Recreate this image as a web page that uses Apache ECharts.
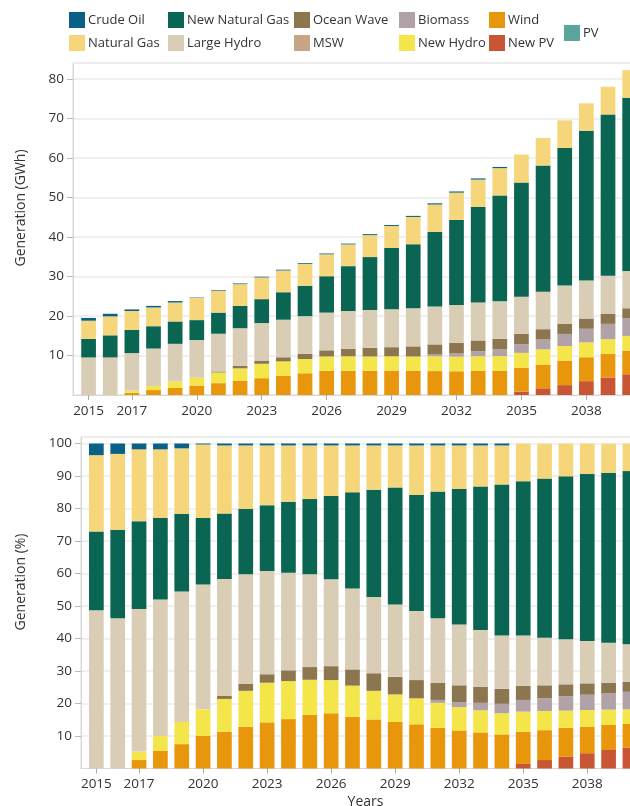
<!DOCTYPE html>
<html>
<head>
<meta charset="utf-8">
<script src="https://cdn.jsdelivr.net/npm/echarts@6/dist/echarts.min.js"></script>
<style>
  html, body { margin: 0; padding: 0; background: #fff; }
  #chart { width: 630px; height: 806px; }
</style>
</head>
<body>
<div id="chart"></div>
<script>
// years on the x axis
var years = [2015, 2016, 2017, 2018, 2019, 2020, 2021, 2022, 2023, 2024, 2025, 2026, 2027,
             2028, 2029, 2030, 2031, 2032, 2033, 2034, 2035, 2036, 2037, 2038, 2039, 2040];
var yearTicks = [2015, 2017, 2020, 2023, 2026, 2029, 2032, 2035, 2038];
var gwhTicks = [10, 20, 30, 40, 50, 60, 70, 80];
var pctTicks = [10, 20, 30, 40, 50, 60, 70, 80, 90, 100];

// generation, GWh
var newPvGwh = [0, 0, 0, 0, 0, 0, 0, 0, 0, 0, 0, 0, 0, 0, 0, 0, 0, 0, 0, 0, 0.85, 1.7, 2.5, 3.5, 4.45, 5.25];
var windGwh = [0, 0, 0.55, 1.25, 1.8, 2.4, 3.0, 3.6, 4.25, 4.8, 5.5, 6.1, 6.1, 6.15, 6.15, 6.15, 6.05, 6.0, 6.1, 6.1, 6.0, 6.0, 6.2, 6.05, 6.0, 6.0];
var newHydroGwh = [0, 0, 0.55, 1.0, 1.6, 2.0, 2.7, 3.15, 3.65, 3.7, 3.6, 3.65, 3.7, 3.6, 3.65, 3.6, 3.75, 3.7, 3.7, 3.75, 3.8, 3.85, 3.7, 3.75, 3.65, 3.7];
var biomassGwh = [0, 0, 0, 0, 0, 0, 0, 0, 0, 0, 0, 0, 0, 0, 0, 0, 0.45, 0.8, 1.3, 1.7, 2.2, 2.5, 3.05, 3.45, 3.9, 4.45];
var mswGwh = [0, 0, 0, 0, 0, 0, 0, 0, 0, 0, 0, 0, 0, 0, 0, 0, 0, 0, 0, 0, 0, 0, 0, 0, 0, 0];
var oceanWaveGwh = [0, 0, 0, 0, 0, 0, 0.25, 0.6, 0.8, 1.05, 1.3, 1.55, 1.9, 2.2, 2.3, 2.55, 2.55, 2.7, 2.7, 2.65, 2.6, 2.6, 2.6, 2.6, 2.6, 2.55];
var pvGwh = [0, 0, 0, 0, 0, 0, 0, 0, 0, 0, 0, 0, 0, 0, 0, 0, 0, 0, 0, 0, 0, 0, 0, 0, 0, 0];
var largeHydroGwh = [9.5, 9.5, 9.5, 9.5, 9.55, 9.5, 9.55, 9.55, 9.5, 9.5, 9.55, 9.55, 9.55, 9.55, 9.6, 9.65, 9.6, 9.6, 9.6, 9.5, 9.4, 9.5, 9.65, 9.6, 9.6, 9.45];
var newGasGwh = [4.7, 5.6, 5.85, 5.65, 5.65, 5.05, 5.35, 5.65, 6.05, 6.95, 7.7, 9.2, 11.35, 13.4, 15.5, 16.2, 18.9, 21.5, 24.2, 26.8, 28.9, 31.9, 34.8, 37.9, 40.8, 43.8];
var gasGwh = [4.6, 4.8, 4.8, 4.75, 4.8, 5.6, 5.5, 5.5, 5.5, 5.5, 5.5, 5.55, 5.5, 5.55, 5.55, 6.9, 6.9, 6.9, 6.9, 6.9, 7.1, 7.0, 7.0, 6.95, 7.0, 7.0];
var crudeGwh = [0.7, 0.65, 0.4, 0.4, 0.36, 0.1, 0.16, 0.17, 0.18, 0.2, 0.2, 0.2, 0.2, 0.25, 0.25, 0.27, 0.3, 0.3, 0.3, 0.3, 0, 0, 0, 0, 0, 0];

// generation share, %
var newPvPct = [0, 0, 0, 0, 0, 0, 0, 0, 0, 0, 0, 0, 0, 0, 0, 0, 0, 0, 0, 0, 1.4, 2.6, 3.6, 4.7, 5.7, 6.4];
var windPct = [0, 0, 2.6, 5.5, 7.5, 10.0, 11.3, 12.8, 14.2, 15.2, 16.5, 17.0, 15.9, 15.1, 14.3, 13.6, 12.5, 11.7, 11.1, 10.5, 9.9, 9.2, 8.9, 8.2, 7.7, 7.3];
var newHydroPct = [0, 0, 2.6, 4.5, 6.8, 8.2, 10.1, 11.1, 12.2, 11.7, 10.8, 10.2, 9.6, 8.8, 8.5, 8.0, 7.7, 7.2, 6.8, 6.5, 6.2, 5.9, 5.3, 5.1, 4.7, 4.5];
var biomassPct = [0, 0, 0, 0, 0, 0, 0, 0, 0, 0, 0, 0, 0, 0, 0, 0, 0.9, 1.5, 2.3, 2.9, 3.6, 3.9, 4.4, 4.7, 5.0, 5.4];
var mswPct = [0, 0, 0, 0, 0, 0, 0, 0, 0, 0, 0, 0, 0, 0, 0, 0, 0, 0, 0, 0, 0, 0, 0, 0, 0, 0];
var oceanWavePct = [0, 0, 0, 0, 0, 0, 0.9, 2.1, 2.6, 3.3, 3.9, 4.3, 5.0, 5.4, 5.4, 5.6, 5.3, 5.2, 4.9, 4.6, 4.3, 4.0, 3.7, 3.5, 3.3, 3.1];
var pvPct = [0, 0, 0, 0, 0, 0, 0, 0, 0, 0, 0, 0, 0, 0, 0, 0, 0, 0, 0, 0, 0, 0, 0, 0, 0, 0];
var largeHydroPct = [48.7, 46.2, 43.9, 42.0, 40.2, 38.4, 36.0, 33.8, 31.8, 30.0, 28.6, 26.7, 24.9, 23.5, 22.3, 21.3, 19.8, 18.7, 17.5, 16.4, 15.5, 14.6, 13.9, 13.0, 12.3, 11.5];
var newGasPct = [24.2, 27.3, 27.0, 25.1, 23.8, 20.5, 20.2, 20.1, 20.2, 21.9, 23.1, 25.7, 29.6, 33.0, 36.0, 35.7, 39.0, 41.7, 44.2, 46.5, 47.5, 49.0, 50.1, 51.4, 52.3, 53.3];
var gasPct = [23.5, 23.3, 22.1, 21.1, 20.2, 22.6, 20.9, 19.5, 18.4, 17.3, 16.5, 15.5, 14.4, 13.6, 12.9, 15.2, 14.2, 13.4, 12.6, 12.0, 11.6, 10.8, 10.1, 9.4, 9.0, 8.5];
var crudePct = [3.6, 3.2, 1.8, 1.8, 1.5, 0.3, 0.6, 0.6, 0.6, 0.6, 0.6, 0.6, 0.6, 0.6, 0.6, 0.6, 0.6, 0.6, 0.6, 0.6, 0, 0, 0, 0, 0, 0];

// stack order, bottom to top
var layers = [
  { name: 'New PV', color: '#c85533', gwh: newPvGwh, pct: newPvPct },
  { name: 'Wind', color: '#e8960b', gwh: windGwh, pct: windPct },
  { name: 'New Hydro', color: '#f4e64a', gwh: newHydroGwh, pct: newHydroPct },
  { name: 'Biomass', color: '#b1a2a8', gwh: biomassGwh, pct: biomassPct },
  { name: 'MSW', color: '#c8a582', gwh: mswGwh, pct: mswPct },
  { name: 'Ocean Wave', color: '#8b7650', gwh: oceanWaveGwh, pct: oceanWavePct },
  { name: 'PV', color: '#5ba59b', gwh: pvGwh, pct: pvPct },
  { name: 'Large Hydro', color: '#d9cdb6', gwh: largeHydroGwh, pct: largeHydroPct },
  { name: 'New Natural Gas', color: '#0a6552', gwh: newGasGwh, pct: newGasPct },
  { name: 'Natural Gas', color: '#f6d67a', gwh: gasGwh, pct: gasPct },
  { name: 'Crude Oil', color: '#0b6087', gwh: crudeGwh, pct: crudePct }
];

var font = '"Open Sans", "DejaVu Sans", sans-serif';
var txt = '#333';

// value first so that the stack runs on y, year second for the x axis
function pairs(vals) {
  return years.map(function (y, i) { return [vals[i], y]; });
}

var series = [];
layers.forEach(function (l) {
  series.push({
    name: l.name, type: 'bar', stack: 'gwh', xAxisIndex: 0, yAxisIndex: 0,
    encode: { x: 1, y: 0 }, barWidth: 14.7, itemStyle: { color: l.color }, data: pairs(l.gwh)
  });
  series.push({
    name: l.name, type: 'bar', stack: 'pct', xAxisIndex: 1, yAxisIndex: 1,
    encode: { x: 1, y: 0 }, barWidth: 14.7, itemStyle: { color: l.color }, data: pairs(l.pct)
  });
});

function xAxis(gridIndex, name) {
  return {
    type: 'value', gridIndex: gridIndex, min: 2014.28, max: 2040.94,
    name: name, nameLocation: 'middle', nameGap: 27,
    nameTextStyle: { fontFamily: font, fontSize: 14, color: txt },
    axisLine: { show: true, lineStyle: { color: '#d8d8d8' } },
    axisTick: { show: true, length: 5, lineStyle: { color: '#aaa' }, customValues: yearTicks },
    axisLabel: { fontFamily: font, fontSize: 13.5, color: txt, margin: 9, customValues: yearTicks,
                 formatter: function (v) { return String(v); } },
    splitLine: { show: false }
  };
}

function yAxis(gridIndex, max, ticks) {
  return {
    type: 'value', gridIndex: gridIndex, min: 0, max: max,
    axisLine: { show: true, lineStyle: { color: '#d8d8d8' } },
    axisTick: { show: true, length: 6, lineStyle: { color: '#bbb' }, customValues: ticks },
    axisLabel: { fontFamily: font, fontSize: 13.5, color: txt, margin: 9, customValues: ticks },
    splitLine: { show: true, lineStyle: { color: '#ebebeb', width: 1.5 } }
  };
}

function legendCol(left, top, names) {
  return {
    orient: 'vertical', left: left, top: top, padding: 0, itemGap: 7,
    itemWidth: 16, itemHeight: 16, icon: 'rect', selectedMode: false,
    textStyle: { fontFamily: font, fontSize: 13, color: txt, padding: [0, 0, 0, -2] },
    data: names
  };
}

var chart = echarts.init(document.getElementById('chart'));
chart.setOption({
  animation: false,
  legend: [
    legendCol(69, 12, ['Crude Oil', 'Natural Gas']),
    legendCol(168, 12, ['New Natural Gas', 'Large Hydro']),
    legendCol(294, 12, ['Ocean Wave', 'MSW']),
    legendCol(399, 12, ['Biomass', 'New Hydro']),
    legendCol(489, 12, ['Wind', 'New PV']),
    legendCol(564, 25, ['PV'])
  ],
  grid: [
    { left: 73, right: -20, top: 63, bottom: 411, outerBoundsMode: 'none',
      show: true, borderColor: '#d8d8d8', borderWidth: 1 },
    { left: 81, right: -20, top: 437, bottom: 37.5, outerBoundsMode: 'none',
      show: true, borderColor: '#d8d8d8', borderWidth: 1 }
  ],
  xAxis: [xAxis(0, ''), xAxis(1, 'Years')],
  yAxis: [yAxis(0, 84, gwhTicks), yAxis(1, 102, pctTicks)],
  graphic: [
    { type: 'text', x: 21, y: 208, rotation: Math.PI / 2,
      style: { text: 'Generation (GWh)', fontFamily: font, fontSize: 14, fill: txt, align: 'center', verticalAlign: 'middle' } },
    { type: 'text', x: 21, y: 582, rotation: Math.PI / 2,
      style: { text: 'Generation (%)', fontFamily: font, fontSize: 14, fill: txt, align: 'center', verticalAlign: 'middle' } }
  ],
  series: series
});
</script>
</body>
</html>
